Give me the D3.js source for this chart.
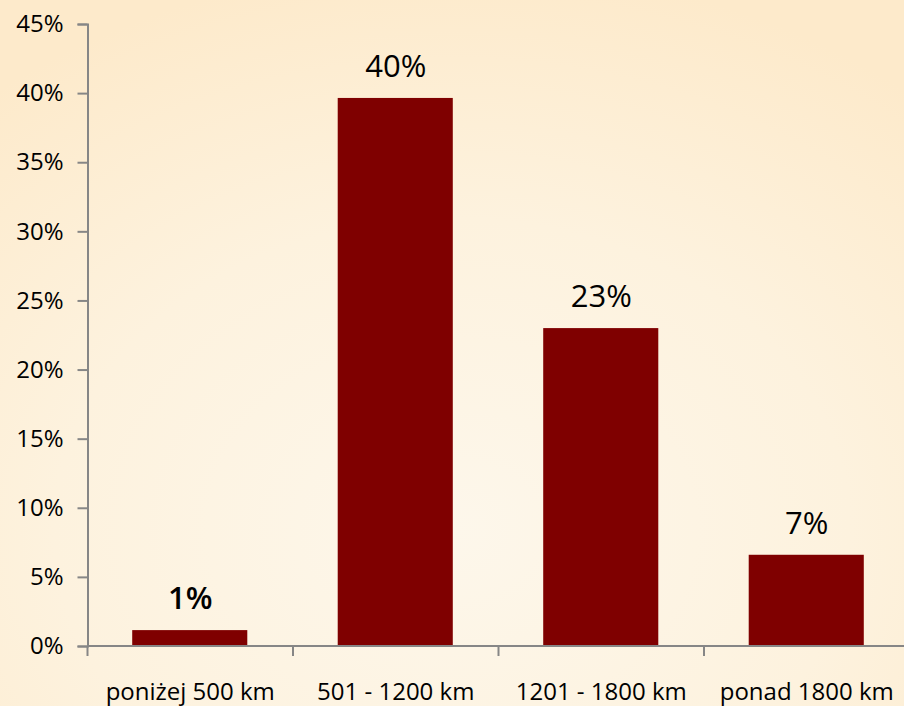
<!DOCTYPE html>
<html>
<head>
<meta charset="utf-8">
<script src="https://cdn.jsdelivr.net/npm/d3@7"></script>
<style>
html,body{margin:0;padding:0;overflow:hidden;}
svg{display:block;}
text{font-family:"Open Sans",sans-serif;fill:#000;}
</style>
</head>
<body>
<script>
const categories = ["poniżej 500 km", "501 - 1200 km", "1201 - 1800 km", "ponad 1800 km"];
const values = [1.15, 39.65, 23.0, 6.6];
const valueLabels = ["1%", "40%", "23%", "7%"];
const yTicks = [0, 5, 10, 15, 20, 25, 30, 35, 40, 45];

const W = 904, H = 706;
const svg = d3.select("body").append("svg").attr("width", W).attr("height", H);

const defs = svg.append("defs");
const grad = defs.append("radialGradient").attr("id", "bg")
  .attr("cx", "50%").attr("cy", "75%").attr("r", "80%");
grad.append("stop").attr("offset", "0%").attr("stop-color", "#fdf7eb");
grad.append("stop").attr("offset", "55%").attr("stop-color", "#fdf2de");
grad.append("stop").attr("offset", "100%").attr("stop-color", "#fdeacb");
svg.append("rect").attr("width", W).attr("height", H).attr("fill", "url(#bg)");

const x0 = 87.5, x1 = 909.5, yTop = 24, yBot = 646;
const x = d3.scaleBand().domain(categories).range([x0, x1]).paddingInner(0.44).paddingOuter(0.22);
const y = d3.scaleLinear().domain([0, 45]).range([yBot, yTop]);

// bars
svg.selectAll("rect.bar").data(values).enter().append("rect")
  .attr("class", "bar")
  .attr("x", (d, i) => x(categories[i]) - 0.5)
  .attr("width", x.bandwidth())
  .attr("y", d => y(d))
  .attr("height", d => y(0) - y(d))
  .attr("fill", "#7f0000");

// value labels
svg.selectAll("text.val").data(values).enter().append("text")
  .attr("class", "val")
  .attr("x", (d, i) => x(categories[i]) + x.bandwidth() / 2)
  .attr("y", d => y(d) - 21)
  .attr("text-anchor", "middle")
  .attr("font-size", 31)
  .attr("font-weight", (d, i) => i === 0 ? 600 : 400)
  .text((d, i) => valueLabels[i]);

// y axis
const yAxis = d3.axisLeft(y).tickValues(yTicks).tickSize(10).tickPadding(14).tickFormat(d => d + "%");
const gy = svg.append("g").attr("transform", `translate(${x0},0)`).call(yAxis);
gy.select(".domain").attr("stroke", "#868686").attr("stroke-width", 2);
gy.selectAll(".tick line").attr("stroke", "#868686").attr("stroke-width", 2);
gy.selectAll(".tick text").attr("font-size", 24).attr("font-family", "Open Sans").attr("fill", "#000");

// x axis
const gx = svg.append("g").attr("transform", `translate(0,${yBot})`);
gx.append("line").attr("x1", x0).attr("x2", x1).attr("stroke", "#868686").attr("stroke-width", 2);
const bounds = d3.range(categories.length + 1).map(i => x0 + i * (x1 - x0) / categories.length);
gx.selectAll("line.tk").data(bounds).enter().append("line")
  .attr("class", "tk")
  .attr("x1", d => d).attr("x2", d => d)
  .attr("y1", 0).attr("y2", 10)
  .attr("stroke", "#868686").attr("stroke-width", 2);
gx.selectAll("text.cat").data(categories).enter().append("text")
  .attr("class", "cat")
  .attr("x", d => x(d) + x.bandwidth() / 2)
  .attr("y", 54)
  .attr("text-anchor", "middle")
  .attr("font-size", 24)
  .text(d => d);
</script>
</body>
</html>
